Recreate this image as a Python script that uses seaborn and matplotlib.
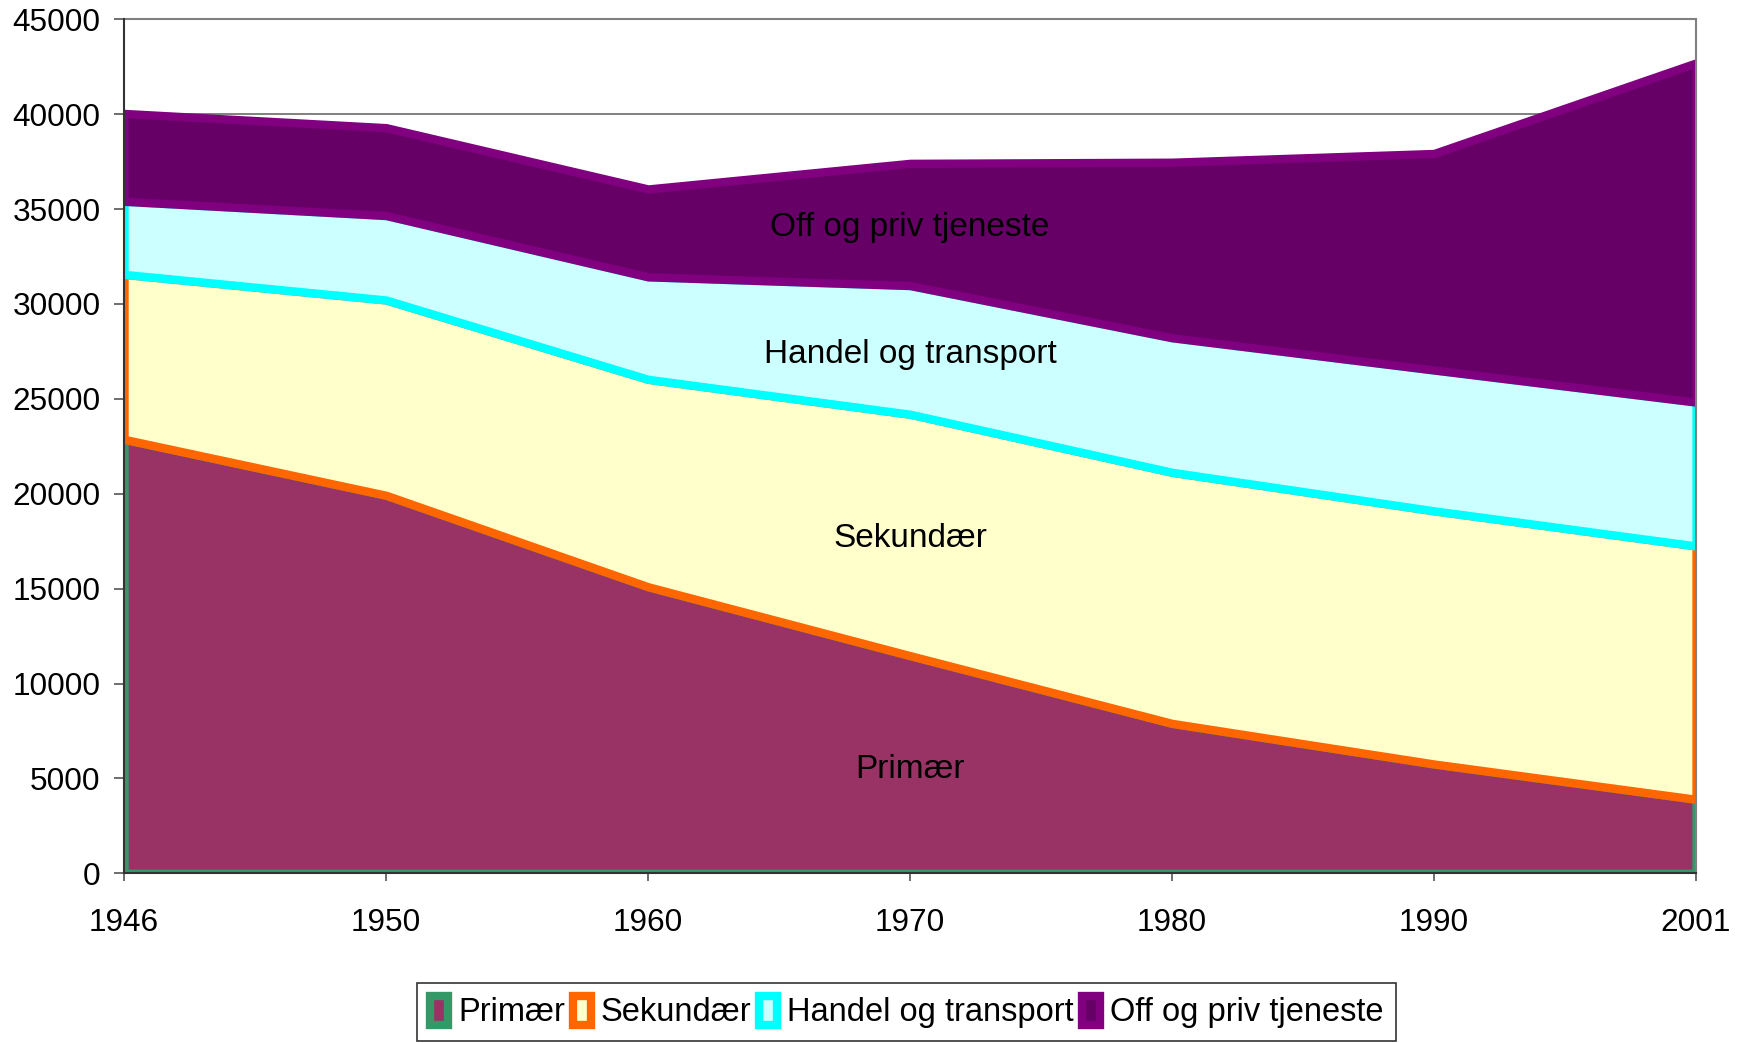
import numpy as np
import seaborn as sns
import matplotlib.pyplot as plt
from matplotlib.patches import Patch

# === DATA ===
years = ["1946", "1950", "1960", "1970", "1980", "1990", "2001"]
primaer = [22870, 19920, 15100, 11470, 7900, 5760, 3900]
sekundaer = [8690, 10290, 10930, 12720, 13230, 13340, 13350]
handel = [3850, 4450, 5400, 6780, 7090, 7420, 7580]
off_priv = [4630, 4630, 4630, 6440, 9250, 11410, 17870]

series_names = ["Primær", "Sekundær", "Handel og transport", "Off og priv tjeneste"]
fill_colors = ["#993366", "#FFFFCC", "#CCFFFF", "#660066"]
edge_colors = ["#339966", "#FF6600", "#00FFFF", "#800080"]

# where the series names sit inside the areas (x index, y value)
label_pos = [(3, 5450), (3, 17650), (3, 27350), (3, 34050)]

# === STYLE ===
sns.set_style("white")
plt.rcParams["font.family"] = ["Liberation Sans", "DejaVu Sans"]

fig = plt.figure(figsize=(17.42, 10.43), dpi=100)
ax = fig.add_axes([0.0712, 0.1627, 0.9024, 0.8188])

x = np.arange(len(years))
polys = ax.stackplot(x, primaer, sekundaer, handel, off_priv,
                     colors=fill_colors, zorder=2)
for poly, ec in zip(polys, edge_colors):
    poly.set_edgecolor(ec)
    poly.set_linewidth(6)
    poly.set_joinstyle("miter")

# texts inside areas
for name, (px, py) in zip(series_names, label_pos):
    ax.text(px, py, name, ha="center", va="center", fontsize=24, color="black", zorder=3)

# axes
ax.set_xlim(0, 6)
ax.set_ylim(0, 45000)
ax.set_yticks(np.arange(0, 45001, 5000))
ax.set_yticklabels([str(v) for v in range(0, 45001, 5000)])
ax.set_xticks(x)
ax.set_xticklabels(years)

ax.set_axisbelow(True)
ax.yaxis.grid(True, color="#808080", linewidth=1.4)
ax.xaxis.grid(False)

for side in ["top", "right"]:
    ax.spines[side].set_color("#808080")
    ax.spines[side].set_linewidth(1.5)
for side in ["left", "bottom"]:
    ax.spines[side].set_color("#333333")
    ax.spines[side].set_linewidth(1.5)
    ax.spines[side].set_zorder(4)

ax.tick_params(axis="y", which="major", left=True, length=7, width=1.2,
               color="#555555", labelsize=22.7, labelcolor="black", pad=10)
ax.tick_params(axis="x", which="major", bottom=True, length=6, width=1.2,
               color="#555555", labelsize=22.7, labelcolor="black", pad=19)

# legend
handles = [Patch(facecolor=fc, edgecolor=ec, linewidth=6)
           for fc, ec in zip(fill_colors, edge_colors)]
leg = fig.legend(handles, series_names, loc="upper center",
                 bbox_to_anchor=(0.5205, 0.058), ncol=4, fontsize=23.5,
                 frameon=True, fancybox=False, handlelength=0.55,
                 handleheight=1.0, handletextpad=0.3, columnspacing=0.25,
                 borderpad=0.4, borderaxespad=0, labelcolor="black")
leg.get_frame().set_edgecolor("black")
leg.get_frame().set_linewidth(1.2)

fig.savefig("out.png", dpi=100)
